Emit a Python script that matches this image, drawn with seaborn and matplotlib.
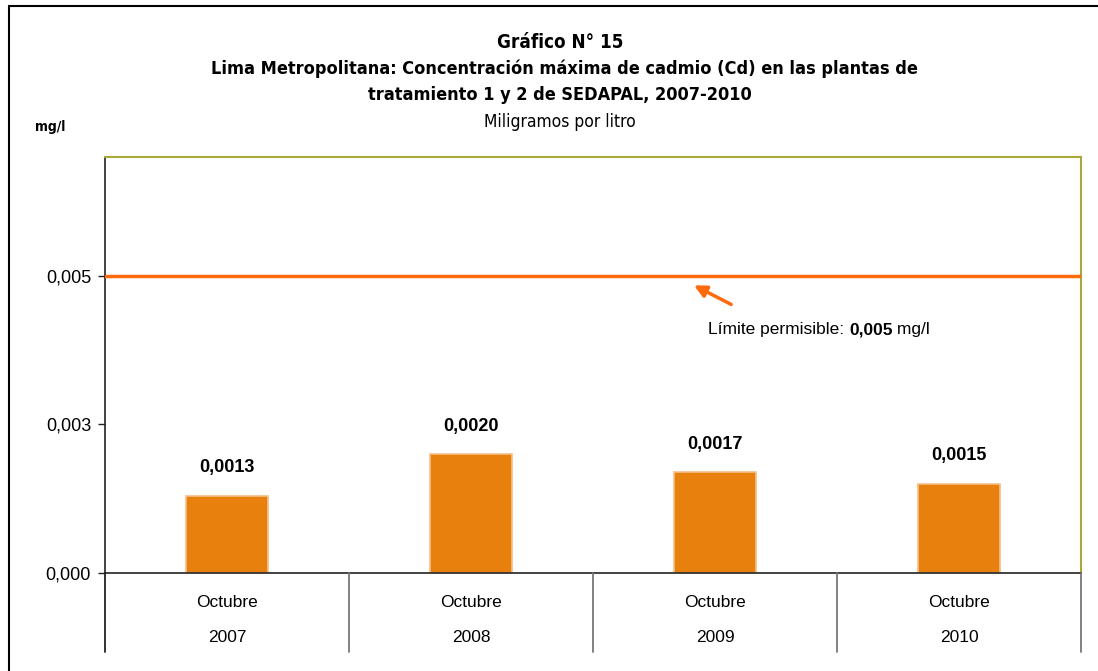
import matplotlib
matplotlib.use("Agg")
import matplotlib.pyplot as plt
import seaborn as sns
import pandas as pd
from matplotlib.lines import Line2D
from matplotlib.ticker import FuncFormatter

# ---- data ----
months = ["Octubre", "Octubre", "Octubre", "Octubre"]
years = ["2007", "2008", "2009", "2010"]
values = [0.0013, 0.0020, 0.0017, 0.0015]
value_labels = ["0,0013", "0,0020", "0,0017", "0,0015"]
limit_value = 0.005
y_ticks = [0.0, 0.0025, 0.005]
y_max = 0.007

title_lines = ["Gráfico N° 15",
               "Lima Metropolitana: Concentración máxima de cadmio (Cd) en las plantas de",
               "tratamiento 1 y 2 de SEDAPAL, 2007-2010"]
subtitle = "Miligramos por litro"
unit = "mg/l"

df = pd.DataFrame({"cat": [f"{m} {y}" for m, y in zip(months, years)], "value": values})

sns.set_theme(style="white")
plt.rcParams["font.family"] = ["Liberation Sans", "DejaVu Sans"]
plt.rcParams["text.color"] = "black"
plt.rcParams["ytick.labelcolor"] = "black"

W, H = 1098, 671
fig = plt.figure(figsize=(W / 100, H / 100), dpi=100)
ax = fig.add_axes([105 / W, 1 - 573 / H, (1081 - 105) / W, (573 - 157) / H])

bar_color = "#E8800E"
sns.barplot(data=df, x="cat", y="value", ax=ax, color=bar_color, width=0.34,
            saturation=1, edgecolor="#F6BE88", linewidth=1.2)

ax.set_xlim(-0.5, len(values) - 0.5)
ax.set_ylim(0, y_max)
ax.set_yticks(y_ticks)
ax.yaxis.set_major_formatter(FuncFormatter(lambda v, p: f"{v:.3f}".replace(".", ",")))
ax.tick_params(axis="y", length=5, width=1, color="#222222", labelsize=13,
               left=True, pad=5, direction="out")
ax.set_xticks([])
ax.set_xlabel("")
ax.set_ylabel("")

for s in ["top", "right"]:
    ax.spines[s].set_color("#A8A83C")
    ax.spines[s].set_linewidth(1.5)
ax.spines["left"].set_color("#222222")
ax.spines["bottom"].set_color("#222222")
ax.spines["left"].set_linewidth(1.2)
ax.spines["bottom"].set_linewidth(1.2)

# limit line
lim_color = "#FF6A0D"
ax.axhline(limit_value, color=lim_color, lw=2.5, zorder=3)

# data labels
for i, (v, lab) in enumerate(zip(values, value_labels)):
    ax.annotate(lab, xy=(i, v), xytext=(0, 14), textcoords="offset points",
                ha="center", va="bottom", fontsize=13, fontweight="bold", color="black")

# arrow and annotation
ax.annotate("", xy=(1.914, 0.00484), xytext=(2.066, 0.00452),
            arrowprops=dict(arrowstyle="-|>,head_length=0.6,head_width=0.3",
                            color=lim_color, lw=2.5, shrinkA=0, shrinkB=0))
t1 = ax.text(1.971, 0.00409, "Límite permisible: ", fontsize=12.5, va="center", ha="left")
t2 = ax.annotate("0,005", xy=(1, 0), xycoords=t1, va="bottom", ha="left",
                 fontsize=12.5, fontweight="bold")
t3 = ax.annotate(" mg/l", xy=(1, 0), xycoords=t2, va="bottom", ha="left", fontsize=12.5)

# category labels (two rows) and separators
for i, (m, y) in enumerate(zip(months, years)):
    ax.text(i, -0.070, m, transform=ax.get_xaxis_transform(), ha="center", va="center",
            fontsize=12.5)
    ax.text(i, -0.154, y, transform=ax.get_xaxis_transform(), ha="center", va="center",
            fontsize=12.5)
for k in range(len(values) + 1):
    xp = (105 + 244 * k) / W
    col = "#222222" if k == 0 else "#777777"
    fig.add_artist(Line2D([xp, xp], [1 - 573 / H, 1 - 652 / H], color=col, lw=1.3))

# titles (condensed face)
tkw = dict(family=["DejaVu Sans", "Liberation Sans"], stretch="condensed")
fig.text(560 / W, 1 - 42 / H, title_lines[0], ha="center", va="center",
         fontsize=13.5, fontweight="bold", **tkw)
fig.text(564 / W, 1 - 69 / H, title_lines[1], ha="center", va="center",
         fontsize=13, fontweight="bold", **tkw)
fig.text(560 / W, 1 - 95 / H, title_lines[2], ha="center", va="center",
         fontsize=13, fontweight="bold", **tkw)
fig.text(560 / W, 1 - 122 / H, subtitle, ha="center", va="center",
         fontsize=12.5, **tkw)
fig.text(35 / W, 1 - 127 / H, unit, ha="left", va="center",
         fontsize=10, fontweight="bold", **tkw)

# outer frame (top and left)
fig.add_artist(Line2D([9 / W, 1.0], [1 - 6 / H, 1 - 6 / H], color="black", lw=1.5))
fig.add_artist(Line2D([9 / W, 9 / W], [0, 1 - 6 / H], color="black", lw=1.5))

fig.savefig("out.png", dpi=100)
